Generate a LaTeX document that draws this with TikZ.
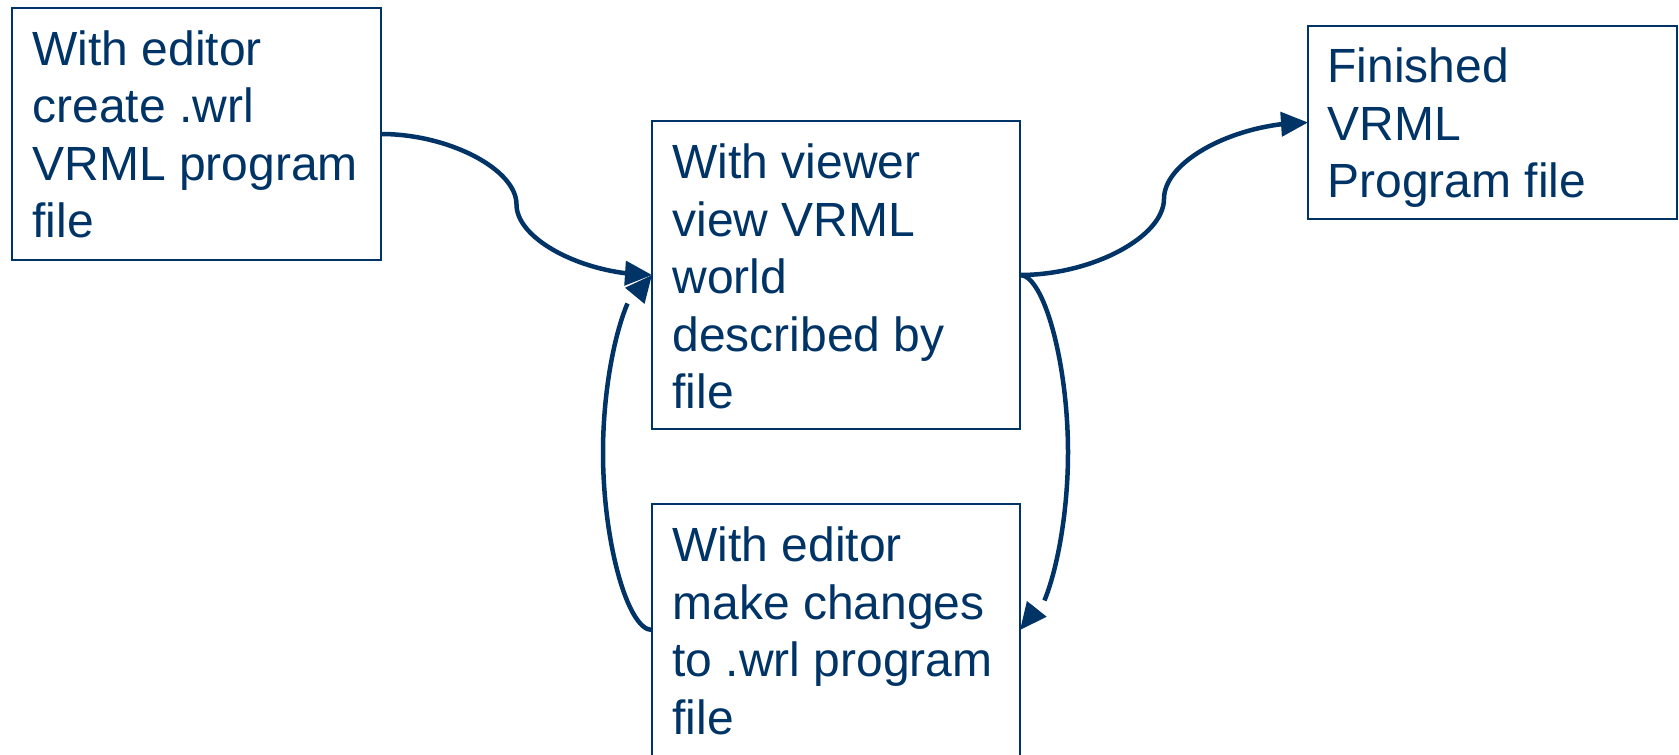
\documentclass[tikz,border=0pt]{standalone}
\usepackage{fontspec}
\setmainfont{Liberation Sans}
\usetikzlibrary{arrows.meta,bending,calc}
\definecolor{navy}{RGB}{0,51,102}
\tikzset{
  box/.style={draw=navy, line width=2pt, inner sep=0pt, outer sep=0pt, anchor=north west},
  boxtext/.style={anchor=base west, inner sep=0pt, outer sep=0pt, text=navy,
    font=\fontsize{48pt}{57.5pt}\selectfont},
  link/.style={draw=navy, line width=4.5pt, -{Triangle[length=27pt,width=24pt,flex]}},
}
% S-shaped connector: leaves #1 horizontally, turns on the vertical line
% through #3, and enters #2 horizontally
\newcommand\curvedlink[3]{%
  \draw[link] let \p1=(#1), \p2=(#2), \p3=(#3) in
    (\p1) .. controls ({(\x1+\x3)/2},\y1) and (\x3,{(3*\y1+\y2)/4})
          .. (\x3,{(\y1+\y2)/2})
          .. controls (\x3,{(\y1+3*\y2)/4}) and ({(\x2+\x3)/2},\y2) .. (\p2);}
\newcommand\lines[1]{\begin{tabular}[t]{@{}l@{}}#1\end{tabular}}

\begin{document}
\begin{tikzpicture}[x=1pt,y=-1pt]
  \useasboundingbox (0,0) rectangle (1679,755);
  \fill[white] (0,0) rectangle (1679,755);
  \clip (0,0) rectangle (1679,755);

  % boxes
  \node[box, minimum width=369pt, minimum height=252pt] (create) at (12,8) {};
  \node[box, minimum width=368pt, minimum height=308pt] (view)   at (652,121) {};
  \node[box, minimum width=368pt, minimum height=252pt] (fix)    at (652,504) {};
  \node[box, minimum width=369pt, minimum height=193pt] (done)   at (1308,26) {};

  % box texts
  \node[boxtext] (createtxt) at (32.5,65)
    {\lines{With editor\\create .wrl\\VRML program\\file}};
  \node[boxtext] (viewtxt) at (672.5,178.5)
    {\lines{With viewer\\view VRML\\world\\described by\\file}};
  \node[boxtext] (fixtxt) at (672.5,561.5)
    {\lines{With editor\\make changes\\to .wrl program\\file}};
  \node[boxtext] (donetxt) at (1327.5,82.5)
    {\lines{Finished\\VRML\\Program file}};

  % connectors
  \curvedlink{create.east}{view.west}{$(create.east)!0.5!(view.west)$}
  \curvedlink{view.east}{done.west}{$(view.east)!0.5!(done.west)$}
  \curvedlink{view.east}{fix.east}{$(view.east)+(48,0)$}
  \curvedlink{fix.west}{view.west}{$(fix.west)+(-49,0)$}
\end{tikzpicture}
\end{document}
